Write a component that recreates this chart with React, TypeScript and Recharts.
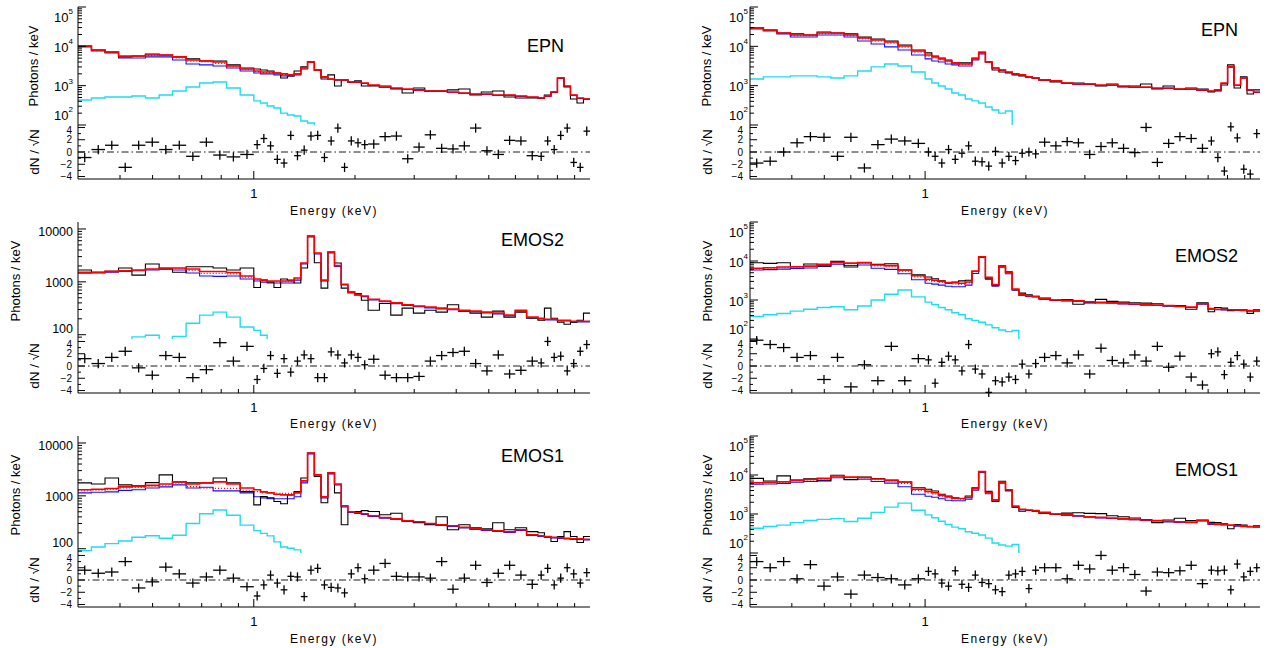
import React from 'react';
import { ComposedChart, ScatterChart, Line, Scatter, ErrorBar, XAxis, YAxis, ReferenceLine } from 'recharts';

// energy bin edges (keV), shared by every panel
const edges = [
  0.300, 0.329, 0.361, 0.396, 0.434, 0.476, 0.523, 0.573, 0.629, 0.690, 0.757, 0.830, 0.911,
  1.000, 1.047, 1.096, 1.148, 1.202, 1.259, 1.318, 1.380, 1.445, 1.514, 1.585, 1.660, 1.738, 1.820,
  1.905, 1.995, 2.089, 2.188, 2.364, 2.555, 2.761, 2.983, 3.224, 3.484, 3.764, 4.068, 4.396, 4.750,
  5.133, 5.547, 5.994, 6.477, 7.000, 7.319, 7.653, 8.002, 8.367, 8.748, 9.147, 9.564, 10.0,
];

const xTicks = [0.4, 0.5, 0.6, 0.7, 0.8, 0.9, 1, 2, 3, 4, 5, 6, 7, 8, 9];
const logTicks = [
  90, 100, 200, 300, 400, 500, 600, 700, 800, 900, 1000, 2000, 3000, 4000, 5000, 6000, 7000, 8000, 9000,
  10000, 20000, 30000, 40000, 50000, 60000, 70000, 80000, 90000, 100000,
];
const residTicks = [-4, -3, -2, -1, 0, 1, 2, 3, 4];

// ---- EPN, left
const pnLeftData = [10200, 8100, 7200, 5400, 5700, 6400, 6000, 5400, 4800, 4250, 4250, 3370, 2820, 2650, 2500, 2370, 2100, 1570, 1770, 2370, 3000, 4000, 2500, 1480, 1880, 980, 1400, 1240, 1320, 980, 980, 980, 820, 650, 870, 735, 735, 780, 820, 580, 690, 735, 515, 486, 486, 486, 580, 690, 1570, 925, 460, 363, 460];
const pnLeftTotal = [10200, 8100, 7200, 5700, 5700, 6000, 6000, 5400, 4500, 4250, 4000, 3170, 2650, 2370, 2230, 2230, 2100, 1990, 1880, 1990, 2820, 4010, 2510, 1670, 1480, 1400, 1400, 1240, 1240, 1170, 1040, 925, 870, 820, 780, 735, 735, 690, 650, 615, 615, 580, 580, 547, 515, 486, 547, 690, 1570, 980, 580, 486, 460];
const pnLeftComp = [9600, 7600, 6800, 5070, 5070, 5400, 5400, 4500, 3570, 3370, 3170, 2820, 2370, 2100, 1990, 1990, 1880, 1770, 1770, 1880, 2650, 4000, 2500, 1640, 1450, 1370, 1370, 1210, 1210, 1140, 1010, 900, 850, 800, 760, 715, 715, 670, 635, 600, 600, 565, 565, 535, 505, 475, 535, 675, 1540, 960, 565, 475, 450];
const pnLeftSoft = [433, 486, 515, 515, 547, 486, 580, 735, 925, 1170, 1240, 870, 580, 410, 363, 305, 271, 200, 180, 170, 126, 112, 90, 60];
const pnLeftAlt = [10000, 8000, 7000, 5500, 5500, 5800, 5800, 5100, 4200, 4000, 3700, 3000, 2550, 2280, 2150, 2150, 2020, 1920, 1830, 1940, 2750, 4000, 2500, 1670, 1480, 1400];
const pnLeftResid = [-0.9, 0.4, 1.1, -2.5, 1.1, 1.6, 0.4, 1.1, -0.7, 1.6, -0.5, -0.8, -0.4, 1.2, 2.2, 1.0, -1.2, -1.8, 2.7, -0.6, 0.3, 2.6, 2.7, -0.9, 1.8, 3.9, -2.5, 1.8, 1.5, 1.2, 1.3, 2.5, 2.6, -1.1, 0.8, 2.8, 0.6, 0.5, 1.0, 3.9, 0.2, -0.4, 1.9, 1.8, -0.6, -0.7, 1.8, 0.4, 2.7, 3.9, -1.7, -2.5, 3.4];

// ---- EPN, right
const pnRightData = [29400, 26000, 21900, 20700, 19500, 23200, 21900, 20700, 17300, 15400, 13700, 10800, 8100, 6800, 5700, 5070, 4510, 3800, 3800, 3800, 5070, 7200, 4000, 2510, 2230, 2100, 1880, 1770, 1670, 1570, 1400, 1240, 1170, 1170, 1100, 980, 1100, 925, 980, 1100, 820, 980, 820, 870, 820, 690, 735, 1040, 3370, 870, 1670, 615, 780];
const pnRightTotal = [29400, 26000, 21900, 19500, 19500, 21900, 21900, 19500, 16400, 14500, 12900, 10200, 7600, 6000, 5400, 4800, 4250, 3800, 3570, 3570, 4800, 6800, 4000, 2820, 2510, 2230, 1990, 1880, 1670, 1570, 1400, 1320, 1170, 1100, 1100, 1040, 1040, 980, 925, 925, 870, 870, 820, 820, 780, 735, 780, 1170, 3000, 1040, 1570, 780, 690];
const pnRightComp = [27700, 24600, 20700, 17300, 17300, 19500, 19500, 17300, 13700, 11500, 9660, 8100, 6000, 4800, 4250, 4000, 3570, 3370, 3170, 3170, 4500, 6400, 4000, 2820, 2450, 2180, 1950, 1840, 1640, 1540, 1370, 1290, 1140, 1070, 1070, 1010, 1010, 955, 900, 900, 850, 850, 800, 800, 760, 715, 760, 1140, 2950, 1010, 1540, 760, 670];
const pnRightSoft = [1480, 1670, 1670, 1770, 1770, 1670, 1570, 1770, 2370, 3000, 3570, 3170, 2230, 1480, 1170, 980, 820, 650, 580, 460, 410, 363, 288, 240, 200, 227, 60];
const pnRightAlt = [28500, 25300, 21300, 18800, 18800, 21000, 21000, 18800, 15700, 13800, 12000, 9600, 7100, 5600, 5000, 4500, 4000, 3650, 3450, 3450, 4700, 6700, 4000, 2820, 2510, 2230];
const pnRightResid = [-1.8, -1.5, 0.0, 1.5, 2.5, 2.4, -0.7, 2.4, -2.6, 1.2, 2.1, 1.8, 1.4, 0.0, -0.7, -1.8, 0.4, -1.2, -0.2, 1.0, -1.5, -1.6, -2.3, 0.1, -1.8, -0.7, -1.4, -0.2, 0.0, -0.3, 1.6, 1.0, 1.7, 1.5, -0.4, 0.9, 1.5, 0.6, -0.1, 4.0, -1.7, 1.4, 2.5, 2.2, 0.6, 1.8, -0.9, -3.1, 4.1, 2.3, -2.8, -3.6, 3.0];

// ---- EMOS2, left
const mos2LeftData = [1670, 1520, 1580, 1830, 1340, 2180, 1750, 1520, 1930, 1930, 1830, 1670, 1830, 780, 1080, 990, 780, 1130, 1080, 950, 1830, 7380, 2300, 760, 3670, 2270, 760, 640, 600, 450, 290, 390, 235, 318, 256, 290, 267, 370, 280, 256, 215, 280, 215, 267, 205, 188, 318, 205, 172, 158, 172, 188, 256];
const mos2LeftTotal = [1520, 1520, 1580, 1620, 1670, 1750, 1830, 1830, 1750, 1570, 1570, 1500, 1290, 1130, 1080, 1035, 1035, 1035, 1035, 1180, 2270, 7380, 3510, 1080, 3670, 2030, 900, 640, 580, 540, 470, 435, 400, 370, 350, 332, 318, 305, 290, 280, 267, 256, 235, 290, 215, 205, 196, 196, 188, 188, 180, 180, 180];
const mos2LeftComp = [1450, 1470, 1520, 1570, 1620, 1670, 1750, 1670, 1470, 1290, 1270, 1290, 1130, 1035, 990, 950, 950, 950, 950, 1080, 2180, 7070, 3370, 1035, 3510, 1950, 870, 620, 560, 525, 455, 420, 388, 358, 340, 322, 308, 296, 281, 272, 259, 248, 228, 281, 209, 199, 190, 190, 182, 182, 175, 175, 175];
const mos2LeftSoft = [60, 65, 72, 78, 91, 98, 78, 93, 165, 235, 267, 215, 140, 121, 98, 80, 60];
const mos2LeftAlt = [1490, 1500, 1550, 1600, 1650, 1720, 1800, 1780, 1650, 1450, 1450, 1420, 1230, 1090, 1040, 1000, 1000, 1000, 1000, 1130, 2230, 7300, 3450, 1060, 3600, 2000];
const mos2LeftResid = [1.2, 0.4, 1.4, 2.4, -0.3, -1.5, 1.7, 1.4, -1.9, -0.6, 3.8, 0.8, 3.2, -2.2, -0.4, 1.7, -1.2, 1.2, -1.0, 0.8, 1.8, 1.2, -1.9, -1.9, 2.3, 1.8, 0.5, 1.8, 1.4, 0.2, 1.1, -1.5, -1.9, -1.9, -1.7, 0.8, 1.7, 2.2, 2.4, 0.4, -0.8, 1.8, -1.3, -0.7, 0.8, 0.5, 4.0, 1.4, 1.6, -0.8, 0.4, 2.4, 3.5];

// ---- EMOS2, right
const mos2RightData = [9000, 8700, 9000, 7150, 8400, 7500, 9800, 7000, 9000, 8200, 8500, 5900, 4400, 3900, 3500, 3100, 2700, 2900, 3100, 3200, 5400, 12900, 3500, 2350, 7500, 5300, 1800, 1500, 1350, 1250, 1050, 1000, 1030, 780, 840, 1040, 920, 880, 850, 830, 800, 700, 720, 580, 850, 500, 640, 620, 530, 560, 560, 455, 560];
const mos2RightTotal = [6500, 6700, 7000, 7150, 7400, 8200, 9300, 8800, 9100, 7900, 7600, 5900, 4200, 3400, 3200, 3000, 2800, 2780, 2700, 2900, 5500, 12900, 3800, 2500, 7300, 5000, 1900, 1350, 1270, 1230, 1120, 1000, 980, 950, 900, 870, 850, 820, 790, 760, 745, 720, 690, 660, 800, 600, 580, 570, 560, 555, 545, 535, 530];
const mos2RightComp = [5900, 6000, 6200, 6400, 6600, 7200, 8300, 7700, 7900, 6500, 6100, 4700, 3300, 2700, 2550, 2400, 2250, 2180, 2180, 2400, 4800, 12300, 3400, 2250, 6900, 4700, 1800, 1310, 1230, 1190, 1090, 970, 950, 920, 875, 845, 825, 795, 765, 740, 725, 700, 670, 640, 775, 582, 563, 553, 543, 538, 529, 519, 514];
const mos2RightSoft = [380, 420, 450, 520, 580, 640, 670, 560, 700, 1000, 1400, 1800, 1200, 880, 760, 640, 560, 470, 420, 330, 300, 270, 230, 195, 170, 155, 165, 60];
const mos2RightAlt = [6300, 6500, 6800, 7000, 7200, 8000, 9100, 8500, 8800, 7500, 7200, 5500, 3900, 3200, 3000, 2850, 2650, 2600, 2550, 2750, 5300, 12800, 3700, 2450, 7200, 4900];
const mos2RightResid = [4.2, 3.5, 3.0, 1.4, 1.7, -2.2, 1.4, -3.4, 0.2, -2.4, 3.2, -2.4, 1.2, 1.0, -2.8, 0.6, 1.6, 1.0, -0.8, 3.5, -0.5, -1.3, -4.3, -2.4, -2.6, -1.8, -2.2, 0.3, -1.3, 0.4, 1.4, 1.7, 0.5, 1.8, -1.3, 2.9, 0.9, 0.5, 1.8, 0.8, 3.2, -0.2, 1.6, -1.8, -3.1, 2.0, 2.3, -1.4, 0.6, 1.7, 0.3, -1.8, 0.8];

// ---- EMOS1, left
const mos1LeftData = [1760, 1680, 2180, 1610, 1550, 1780, 2490, 1840, 1760, 1760, 2180, 1760, 1200, 675, 970, 917, 780, 707, 1045, 1200, 2180, 6470, 2320, 740, 2720, 1140, 284, 505, 505, 525, 505, 438, 470, 342, 310, 284, 402, 228, 284, 249, 238, 310, 228, 249, 211, 200, 170, 137, 170, 211, 170, 131, 170];
const mos1LeftTotal = [1300, 1330, 1380, 1480, 1510, 1580, 1680, 1840, 1680, 1760, 1840, 1680, 1410, 1300, 1190, 1140, 1070, 1045, 1045, 1140, 1920, 6470, 2490, 960, 2720, 1680, 650, 500, 478, 458, 420, 390, 367, 337, 323, 300, 284, 272, 254, 238, 228, 219, 209, 228, 184, 176, 169, 165, 161, 158, 154, 154, 151];
const mos1LeftComp = [1140, 1170, 1190, 1270, 1300, 1410, 1480, 1610, 1410, 1450, 1240, 1240, 1140, 960, 917, 880, 880, 880, 880, 960, 1760, 6200, 2380, 917, 2600, 1610, 620, 485, 464, 444, 407, 378, 356, 327, 313, 291, 275, 264, 246, 231, 221, 212, 203, 221, 178, 171, 164, 160, 156, 153, 149, 149, 146];
const mos1LeftSoft = [92, 108, 125, 140, 165, 176, 158, 180, 300, 460, 540, 430, 280, 220, 195, 175, 135, 108, 102, 95, 75];
const mos1LeftAlt = [1250, 1280, 1320, 1420, 1440, 1520, 1600, 1740, 1500, 1400, 1380, 1380, 1250, 1200, 1150, 1140, 1120, 1110, 1110, 1180, 1900, 6400, 2450, 950, 2700, 1660];
const mos1LeftResid = [1.6, 1.1, 1.3, 3.0, -1.3, -0.3, 2.1, 1.0, -0.5, 0.5, 1.6, 0.3, -1.1, -2.6, -0.8, 0.8, -0.5, -1.6, 0.6, 0.5, -2.7, 1.6, 1.9, -0.8, -1.2, -1.3, -2.1, 1.0, 2.0, 0.2, 1.6, 2.7, 0.6, 0.5, 0.5, 0.3, 3.0, -1.5, 0.3, 2.4, -0.4, 1.1, 2.4, 0.8, -0.7, 0.8, 1.9, -0.8, 0.3, 2.0, 1.0, -0.5, 1.2];

// ---- EMOS1, right
const mos1RightData = [8200, 7000, 9500, 7400, 8000, 7000, 9800, 7600, 8800, 8100, 7100, 6600, 4700, 4300, 3900, 3200, 2900, 2600, 2500, 2900, 4700, 12000, 3800, 2100, 6900, 4100, 1500, 1180, 1250, 1200, 1050, 1000, 1050, 1080, 1040, 1020, 900, 850, 790, 720, 600, 700, 780, 680, 700, 610, 600, 560, 420, 540, 520, 480, 500];
const mos1RightTotal = [6350, 6500, 6700, 7300, 7700, 8200, 9500, 8800, 8600, 7900, 7400, 6600, 4300, 3800, 3500, 3000, 2750, 2550, 2500, 2700, 4500, 12200, 3600, 2300, 6500, 4200, 1600, 1320, 1270, 1220, 1100, 1000, 950, 900, 850, 820, 790, 760, 730, 700, 680, 650, 630, 620, 680, 560, 550, 540, 520, 505, 490, 480, 470];
const mos1RightComp = [5800, 5900, 6100, 6500, 6800, 7300, 8500, 7700, 7800, 6800, 6200, 5000, 3200, 2850, 2700, 2450, 2250, 2180, 2180, 2400, 4100, 11800, 3300, 2150, 6200, 3900, 1500, 1280, 1230, 1180, 1070, 970, 920, 875, 825, 795, 765, 735, 710, 680, 660, 630, 610, 600, 660, 543, 533, 524, 505, 490, 475, 466, 456];
const mos1RightSoft = [430, 480, 520, 600, 680, 730, 760, 640, 780, 1100, 1500, 1900, 1250, 950, 800, 650, 540, 460, 420, 350, 320, 290, 240, 180, 160, 150, 165, 60];
const mos1RightAlt = [6200, 6300, 6500, 7100, 7500, 8000, 9300, 8500, 8400, 7600, 7100, 6100, 4000, 3500, 3250, 2850, 2600, 2450, 2400, 2650, 4400, 12100, 3500, 2250, 6400, 4100];
const mos1RightResid = [3.0, 2.0, 3.0, 0.2, 2.5, -1.0, 0.5, -2.3, 0.8, 0.4, 0.2, -0.8, 0.2, 1.4, 1.0, -0.5, -1.0, 1.5, -0.7, -1.2, 0.8, -0.4, -0.6, -1.6, -1.9, 0.8, 1.0, 1.4, -1.4, 1.6, 2.0, 2.0, 0.2, 2.4, 1.8, 4.0, 1.6, 2.0, 0.9, -1.8, 1.3, 1.2, 1.5, 2.4, -0.6, 1.6, 1.5, 1.6, -1.6, 2.6, 0.5, 1.4, 2.0];

const FONT = '"Liberation Sans", Arial, Helvetica, sans-serif';
const X_DOMAIN: [number, number] = [0.3, 10];
const RESID_DOMAIN: [number, number] = [-4.4, 4.4];
const CHART_W = 600;
const RIGHT_M = 10;
const PAD = 3;
const AXIS_H = 44;
const CYAN = '#1fdcf0';

const cols = [
  { left: 0, axisW: 78, labelGap: 5, residGap: 6, photX: [33, 15, 15], dnX: 35, titleX: 564, energyX: 334 },
  { left: 670, axisW: 80, labelGap: 2, residGap: 7, photX: [706, 707, 707], dnX: 708, titleX: 1238, energyX: 1005 },
];
const rows = [
  { top: 7, mid: 125, bottom: 179, energyY: 211 },
  { top: 222, mid: 339, bottom: 393, energyY: 424 },
  { top: 436, mid: 553, bottom: 607, energyY: 639 },
];

type Panel = {
  col: number; row: number; title: string; titleY: number;
  yDomain: [number, number]; sci: boolean;
  data: number[]; total: number[]; comp: number[]; soft: number[]; alt: number[]; resid: number[];
};

const panels: Panel[] = [
  { col: 0, row: 0, title: 'EPN', titleY: 46, yDomain: [100, 100000], sci: true, data: pnLeftData, total: pnLeftTotal, comp: pnLeftComp, soft: pnLeftSoft, alt: pnLeftAlt, resid: pnLeftResid },
  { col: 1, row: 0, title: 'EPN', titleY: 30, yDomain: [100, 100000], sci: true, data: pnRightData, total: pnRightTotal, comp: pnRightComp, soft: pnRightSoft, alt: pnRightAlt, resid: pnRightResid },
  { col: 0, row: 1, title: 'EMOS2', titleY: 240, yDomain: [83, 13550], sci: false, data: mos2LeftData, total: mos2LeftTotal, comp: mos2LeftComp, soft: mos2LeftSoft, alt: mos2LeftAlt, resid: mos2LeftResid },
  { col: 1, row: 1, title: 'EMOS2', titleY: 256, yDomain: [100, 100000], sci: true, data: mos2RightData, total: mos2RightTotal, comp: mos2RightComp, soft: mos2RightSoft, alt: mos2RightAlt, resid: mos2RightResid },
  { col: 0, row: 2, title: 'EMOS1', titleY: 456, yDomain: [83, 13550], sci: false, data: mos1LeftData, total: mos1LeftTotal, comp: mos1LeftComp, soft: mos1LeftSoft, alt: mos1LeftAlt, resid: mos1LeftResid },
  { col: 1, row: 2, title: 'EMOS1', titleY: 470, yDomain: [100, 100000], sci: true, data: mos1RightData, total: mos1RightTotal, comp: mos1RightComp, soft: mos1RightSoft, alt: mos1RightAlt, resid: mos1RightResid },
];

// one row per bin edge, the last edge repeats the last bin so the step closes
const specRows = (p: Panel) => edges.map((e, i) => {
  const j = Math.min(i, edges.length - 2);
  return {
    e,
    data: p.data[j],
    total: p.total[j],
    comp: p.comp[j],
    soft: p.soft[j] ?? null,
    alt: p.alt[j] ?? null,
  };
});

const residRows = (vals: number[]) => vals.map((v, i) => {
  const lo = edges[i];
  const hi = edges[i + 1];
  const c = Math.sqrt(lo * hi);
  return { e: c, v, ex: [c - lo, hi - c], ey: 0.75 };
});

const isDecade = (v: number) => Math.abs(Math.log10(v) - Math.round(Math.log10(v))) < 1e-6;

const xTick = (edgeY: number, dir: number, withLabel: boolean) => (p: any) => {
  const v = p.payload.value;
  const major = isDecade(v);
  return (
    <g>
      <line x1={p.x} x2={p.x} y1={edgeY} y2={edgeY + dir * (major ? 8 : 4)} stroke="#000" strokeWidth={1} />
      {withLabel && major && (
        <text x={p.x} y={edgeY + 14} textAnchor="middle" dominantBaseline="central" fontSize={13} fontFamily={FONT} fill="#000">{v}</text>
      )}
    </g>
  );
};

const logYTick = (edgeX: number, dir: number, top: number, bottom: number, label: null | { gap: number; sci: boolean }) => (p: any) => {
  const v = p.payload.value;
  const major = isDecade(v);
  const exp = Math.round(Math.log10(v));
  // labels at the frame edges are pulled inside, as the original plot does
  const ly = Math.min(Math.max(p.y + 1, top + 10), bottom - 10);
  return (
    <g>
      <line x1={edgeX} x2={edgeX + dir * (major ? 8 : 4)} y1={p.y} y2={p.y} stroke="#000" strokeWidth={1} />
      {label && major && (label.sci ? (
        <text x={edgeX - label.gap} y={ly} textAnchor="end" dominantBaseline="central" fontSize={13} fontFamily={FONT} fill="#000">
          10<tspan dy={-6} fontSize={8}>{exp}</tspan>
        </text>
      ) : (
        <text x={edgeX - label.gap} y={ly} textAnchor="end" dominantBaseline="central" fontSize={12.5} fontFamily={FONT} fill="#000">{v}</text>
      ))}
    </g>
  );
};

const residYTick = (edgeX: number, dir: number, top: number, gap: number | null) => (p: any) => {
  const v = p.payload.value;
  const major = v % 2 === 0;
  const ly = Math.max(p.y, top + 5);
  return (
    <g>
      <line x1={edgeX} x2={edgeX + dir * (major ? 7 : 3)} y1={p.y} y2={p.y} stroke="#000" strokeWidth={1} />
      {gap !== null && major && (
        <text x={edgeX - gap} y={ly} textAnchor="end" dominantBaseline="central" fontSize={10} fontFamily={FONT} fill="#000">
          {v < 0 ? `\u2212${-v}` : `${v}`}
        </text>
      )}
    </g>
  );
};

const noDot = () => <g />;

function SpectrumChart({ p }: { p: Panel }) {
  const col = cols[p.col];
  const row = rows[p.row];
  const plotH = row.mid - row.top;
  const plotLeft = col.axisW;
  const plotRight = CHART_W - RIGHT_M;
  const plotTop = PAD;
  const plotBottom = PAD + plotH;
  const yTicks = logTicks.filter((v) => v >= p.yDomain[0] && v <= p.yDomain[1]);
  return (
    <div style={{ position: 'absolute', left: col.left, top: row.top - PAD }}>
      <ComposedChart width={CHART_W} height={plotH + 2 * PAD} data={specRows(p)} margin={{ top: PAD, right: RIGHT_M, bottom: PAD, left: 0 }}>
        <XAxis dataKey="e" type="number" scale="log" domain={X_DOMAIN} allowDataOverflow ticks={xTicks} interval={0} height={0}
          tickLine={false} axisLine={{ stroke: '#000' }} tick={xTick(plotBottom, -1, false)} />
        <XAxis xAxisId="top" orientation="top" dataKey="e" type="number" scale="log" domain={X_DOMAIN} allowDataOverflow ticks={xTicks}
          interval={0} height={0} tickLine={false} axisLine={{ stroke: '#000' }} tick={xTick(plotTop, 1, false)} />
        <YAxis type="number" scale="log" domain={p.yDomain} allowDataOverflow ticks={yTicks} interval={0} width={col.axisW}
          tickLine={false} axisLine={{ stroke: '#000' }}
          tick={logYTick(plotLeft, 1, plotTop, plotBottom, { gap: col.labelGap, sci: p.sci })} />
        <YAxis yAxisId="right" orientation="right" type="number" scale="log" domain={p.yDomain} allowDataOverflow ticks={yTicks}
          interval={0} width={0} tickLine={false} axisLine={{ stroke: '#000' }}
          tick={logYTick(plotRight, -1, plotTop, plotBottom, null)} />
        <Line dataKey="soft" type="stepAfter" stroke={CYAN} strokeWidth={1.4} dot={false} isAnimationActive={false} />
        <Line dataKey="comp" type="stepAfter" stroke="#1010ff" strokeWidth={1.1} dot={false} isAnimationActive={false} />
        <Line dataKey="data" type="stepAfter" stroke="#000" strokeWidth={1.1} dot={false} isAnimationActive={false} />
        <Line dataKey="alt" type="stepAfter" stroke="#ff0000" strokeWidth={1.2} strokeDasharray="1 2" dot={false} isAnimationActive={false} />
        <Line dataKey="total" type="stepAfter" stroke="#ff0000" strokeWidth={1.6} dot={false} isAnimationActive={false} />
      </ComposedChart>
    </div>
  );
}

function ResidChart({ p }: { p: Panel }) {
  const col = cols[p.col];
  const row = rows[p.row];
  const plotH = row.bottom - row.mid;
  const plotLeft = col.axisW;
  const plotRight = CHART_W - RIGHT_M;
  const plotTop = PAD;
  const plotBottom = PAD + plotH;
  return (
    <div style={{ position: 'absolute', left: col.left, top: row.mid - PAD }}>
      <ScatterChart width={CHART_W} height={PAD + plotH + AXIS_H} margin={{ top: PAD, right: RIGHT_M, bottom: 0, left: 0 }}>
        <XAxis dataKey="e" type="number" scale="log" domain={X_DOMAIN} allowDataOverflow ticks={xTicks} interval={0} height={AXIS_H}
          tickLine={false} axisLine={{ stroke: '#000' }} tick={xTick(plotBottom, -1, true)} />
        <XAxis xAxisId="top" orientation="top" dataKey="e" type="number" scale="log" domain={X_DOMAIN} allowDataOverflow ticks={xTicks}
          interval={0} height={0} tickLine={false} axisLine={{ stroke: '#000' }} tick={xTick(plotTop, 1, false)} />
        <YAxis dataKey="v" type="number" domain={RESID_DOMAIN} allowDataOverflow ticks={residTicks} interval={0} width={col.axisW}
          tickLine={false} axisLine={{ stroke: '#000' }} tick={residYTick(plotLeft, 1, plotTop, col.residGap)} />
        <YAxis yAxisId="right" orientation="right" type="number" domain={RESID_DOMAIN} allowDataOverflow ticks={residTicks}
          interval={0} width={0} tickLine={false} axisLine={{ stroke: '#000' }} tick={residYTick(plotRight, -1, plotTop, null)} />
        <ReferenceLine y={0} stroke="#000" strokeWidth={0.9} strokeDasharray="7 3 1.5 3" />
        <Scatter data={residRows(p.resid)} shape={noDot} isAnimationActive={false}>
          <ErrorBar dataKey="ex" direction="x" width={0} stroke="#000" strokeWidth={1.3} isAnimationActive={false} />
          <ErrorBar dataKey="ey" direction="y" width={0} stroke="#000" strokeWidth={1.3} isAnimationActive={false} />
        </Scatter>
      </ScatterChart>
    </div>
  );
}

const textBase: React.CSSProperties = { position: 'absolute', fontFamily: FONT, color: '#000', whiteSpace: 'nowrap', lineHeight: 1 };

export default function App() {
  return (
    <div style={{ position: 'absolute', left: 0, top: 0, width: 1270, height: 648, background: '#fff', overflow: 'hidden' }}>
      {panels.map((p) => {
        const col = cols[p.col];
        const row = rows[p.row];
        return (
          <React.Fragment key={`${p.col}-${p.row}`}>
            <SpectrumChart p={p} />
            <ResidChart p={p} />
            <div style={{ ...textBase, left: col.titleX, top: p.titleY, fontSize: 18, transform: 'translate(-100%, -50%)' }}>{p.title}</div>
            <div style={{ ...textBase, left: col.photX[p.row], top: (row.top + row.mid) / 2, fontSize: 13, transform: 'translate(-50%, -50%) rotate(-90deg)' }}>Photons / keV</div>
            <div style={{ ...textBase, left: col.dnX, top: (row.mid + row.bottom) / 2, fontSize: 13.5, transform: 'translate(-50%, -50%) rotate(-90deg)' }}>dN / √N</div>
            <div style={{ ...textBase, left: col.energyX, top: row.energyY, fontSize: 12, letterSpacing: 1.5, transform: 'translate(-50%, -50%)' }}>Energy (keV)</div>
          </React.Fragment>
        );
      })}
    </div>
  );
}
